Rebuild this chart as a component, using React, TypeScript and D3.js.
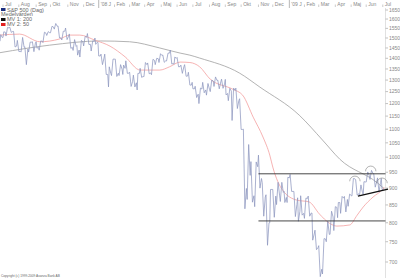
import React from "react";
import * as d3 from "d3";

// ---- Data (S&P 500, weekly high/low/close) ----
const weekEnd = [
  "2007-06-29","2007-07-06","2007-07-13","2007-07-20","2007-07-27","2007-08-03","2007-08-10","2007-08-17","2007-08-24","2007-08-31",
  "2007-09-07","2007-09-14","2007-09-21","2007-09-28","2007-10-05","2007-10-12","2007-10-19","2007-10-26","2007-11-02","2007-11-09",
  "2007-11-16","2007-11-23","2007-11-30","2007-12-07","2007-12-14","2007-12-21","2007-12-28",
  "2008-01-04","2008-01-11","2008-01-18","2008-01-25","2008-02-01","2008-02-08","2008-02-15","2008-02-22","2008-02-29","2008-03-07",
  "2008-03-14","2008-03-21","2008-03-28","2008-04-04","2008-04-11","2008-04-18","2008-04-25","2008-05-02","2008-05-09","2008-05-16",
  "2008-05-23","2008-05-30","2008-06-06","2008-06-13","2008-06-20","2008-06-27","2008-07-04","2008-07-11","2008-07-18","2008-07-25",
  "2008-08-01","2008-08-08","2008-08-15","2008-08-22","2008-08-29","2008-09-05","2008-09-12","2008-09-19","2008-09-26","2008-10-03",
  "2008-10-10","2008-10-17","2008-10-24","2008-10-31","2008-11-07","2008-11-14","2008-11-21","2008-11-28","2008-12-05","2008-12-12",
  "2008-12-19","2008-12-26",
  "2009-01-02","2009-01-09","2009-01-16","2009-01-23","2009-01-30","2009-02-06","2009-02-13","2009-02-20","2009-02-27","2009-03-06",
  "2009-03-13","2009-03-20","2009-03-27","2009-04-03","2009-04-10","2009-04-17","2009-04-24","2009-05-01","2009-05-08","2009-05-15",
  "2009-05-22","2009-05-29","2009-06-05","2009-06-12","2009-06-19","2009-06-26","2009-07-03","2009-07-06",
];
const weekHigh = [
  1517,1532,1555,1556,1534,1488,1503,1456,1479,1481,1481,1485,1530,1533,1561,1576,1563,1535,1552,1521,1492,1462,1488,1508,1523,1485,1500,
  1478,1420,1420,1360,1396,1396,1370,1368,1388,1335,1322,1330,1353,1380,1378,1395,1400,1422,1416,1425,1440,1406,1404,1368,1370,1335,
  1290,1273,1265,1290,1285,1300,1314,1300,1304,1303,1264,1265,1265,1220,1100,1044,985,984,1007,917,880,896,896,918,918,890,
  934,943,890,871,877,870,876,827,780,740,758,804,832,845,857,875,875,882,930,926,910,920,951,956,945,932,930,898,
];
const weekLow = [
  1484,1503,1510,1529,1455,1433,1430,1370,1430,1432,1449,1439,1477,1513,1527,1546,1500,1490,1492,1448,1438,1415,1406,1460,1467,1435,1468,
  1411,1370,1325,1270,1320,1316,1320,1325,1330,1272,1270,1257,1312,1315,1328,1324,1370,1380,1381,1387,1373,1372,1360,1330,1317,1278,
  1262,1225,1200,1245,1235,1250,1272,1262,1264,1236,1212,1133,1180,1099,839,866,858,845,900,818,741,800,815,851,860,857,
  857,890,817,804,821,812,818,754,730,666,672,750,769,779,814,826,830,846,876,879,877,880,919,927,903,888,896,886,
];
const weekClose = [
  1503,1530,1552,1534,1459,1433,1453,1445,1479,1474,1453,1484,1525,1527,1557,1561,1501,1535,1509,1453,1458,1440,1481,1504,1468,1484,1478,
  1411,1401,1325,1330,1396,1331,1349,1353,1331,1294,1288,1330,1316,1370,1332,1390,1398,1413,1388,1425,1375,1400,1361,1360,1318,1278,
  1262,1239,1261,1257,1260,1296,1298,1292,1283,1242,1252,1255,1213,1099,899,940,877,968,930,873,800,896,876,879,887,872,
  932,890,851,832,826,869,827,770,735,683,757,769,816,843,857,870,866,878,929,883,887,919,940,946,921,918,896,898,
];

// Moving averages
const ma200Date = ["2007-06-26","2007-09-28","2008-01-04","2008-03-03","2008-04-29","2008-06-06","2008-06-25","2008-07-15","2008-09-29","2008-11-05","2009-01-22","2009-03-09","2009-04-09","2009-06-22","2009-07-06"];
const ma200Value = [1427,1464,1485,1481,1450,1425,1415,1401,1331,1269,1154,1060,993,916,898];
const ma50Date = ["2007-06-26","2007-08-02","2007-09-11","2007-10-17","2007-11-06","2007-11-26","2007-12-24","2008-01-24","2008-02-22","2008-03-24","2008-04-29","2008-05-16","2008-06-06","2008-06-25","2008-07-15","2008-08-04","2008-09-16","2008-10-03","2008-10-23","2008-11-11","2008-11-24","2008-12-01","2008-12-18","2009-01-16","2009-02-10","2009-03-03","2009-03-20","2009-04-03","2009-04-29","2009-05-13","2009-05-26","2009-06-12","2009-07-01","2009-07-06"];
const ma50Value = [1515,1520,1481,1495,1515,1515,1489,1459,1407,1345,1345,1360,1382,1380,1360,1304,1260,1235,1146,1071,1007,967,894,864,859,824,799,791,794,821,844,873,897,903];

const monthLabels = ["Jul","Aug","Sep","Okt","Nov","Dec","'08 J","Feb","Mar","Apr","Maj","Jun","Jul","Aug","Sep","Okt","Nov","Dec","'09 J","Feb","Mar","Apr","Maj","Jun","Jul"];
const priceTicks = [700,750,800,850,900,950,1000,1050,1100,1150,1200,1250,1300,1350,1400,1450,1500,1550,1600,1650];

const holidays = ["2007-07-04","2007-09-03","2007-11-22","2007-12-25","2008-01-01","2008-01-21","2008-02-18","2008-03-21","2008-05-26","2008-07-04","2008-09-01","2008-11-27","2008-12-25","2009-01-01","2009-01-19","2009-02-16","2009-04-10","2009-05-25","2009-07-03"];

// Annotations
const levelValues = [945, 805];
const levelStart = "2008-11-03";
const trendDates = ["2009-05-14", "2009-07-13"];
const trendValues = [876, 897];
const arcDates = ["2009-05-08", "2009-06-09", "2009-06-30"];
const arcValues = [925, 957, 919];

const legendLabels = ["S&P 500 (Dag)", "Medelvärden", "MV 1: 200", "MV 2: 50"];

export default function App() {
  const W = 400, H = 278;
  const parse = d3.utcParse("%Y-%m-%d");
  const fmt = d3.utcFormat("%Y-%m-%d");
  const hol = new Set(holidays);
  const days = d3.utcDay
    .range(parse("2007-06-26")!, parse("2009-07-20")!)
    .filter((d) => d.getUTCDay() > 0 && d.getUTCDay() < 6 && !hol.has(fmt(d)));
  const t = days.map((d) => +d);
  const idxOf = (s: string) => d3.bisectLeft(t, +parse(s)!);
  const lastIdx = idxOf("2009-07-06");
  const x = d3.scaleLinear().domain([0, lastIdx]).range([0, 384.3]);
  const y = d3.scaleLog().domain([700, 1650]).range([262, 10]);
  const axisX = 385.5;

  // price path
  const pts: [number, number][] = [];
  let prevEnd = -1;
  let prevClose = weekClose[0];
  weekEnd.forEach((we, i) => {
    const endIdx = d3.bisectRight(t, +parse(we)!) - 1;
    const D = d3.range(prevEnd + 1, endIdx + 1);
    const n = D.length;
    const up = weekClose[i] >= prevClose;
    const e1 = up ? weekLow[i] : weekHigh[i];
    const e2 = up ? weekHigh[i] : weekLow[i];
    if (n >= 3) pts.push([D[0], e1], [D[Math.max(1, n - 3)], e2], [D[n - 1], weekClose[i]]);
    else if (n === 2) pts.push([D[0], e1], [D[1], weekClose[i]]);
    else if (n === 1) pts.push([D[0], weekClose[i]]);
    prevEnd = endIdx;
    prevClose = weekClose[i];
  });
  const line = d3.line<[number, number]>().x((d) => x(d[0])).y((d) => y(d[1]));
  const pricePath = line(pts) || "";

  const maLine = d3
    .line<[number, number]>()
    .x((d) => x(d[0]))
    .y((d) => y(d[1]))
    .curve(d3.curveMonotoneX);
  const ma200Path = maLine(ma200Date.map((d, i) => [idxOf(d), ma200Value[i]])) || "";
  const ma50Path = maLine(ma50Date.map((d, i) => [idxOf(d), ma50Value[i]])) || "";

  // months
  const months = d3.utcMonth.range(parse("2007-07-01")!, parse("2009-07-02")!);
  const monthX = months.map((m) => x(idxOf(fmt(m))));

  const font = "'Liberation Sans', Arial, sans-serif";
  const r = 5.2;

  return (
    <div style={{ position: "fixed", left: 0, top: 0, width: W, height: H, background: "#fff" }}>
      <svg width={W} height={H} style={{ display: "block" }} fontFamily={font}>
        <rect width={W} height={H} fill="#fff" />
        {/* top month axis */}
        {monthX.map((mx, i) => {
          const isYear = months[i].getUTCMonth() === 0;
          return (
            <g key={"m" + i}>
              <line x1={mx} x2={mx} y1={isYear ? 0 : 4.5} y2={isYear ? 8 : 7} stroke={isYear ? "#888" : "#aaa"} strokeWidth={0.6} />
              <text x={mx + 2} y={5.6} fontSize={5} fill="#888">{monthLabels[i]}</text>
            </g>
          );
        })}
        {/* right axis */}
        <line x1={axisX} x2={axisX} y1={8} y2={H} stroke="#ccc" strokeWidth={0.6} />
        {priceTicks.map((v) => (
          <g key={"p" + v}>
            <line x1={axisX} x2={axisX + 2.5} y1={y(v)} y2={y(v)} stroke="#999" strokeWidth={0.6} />
            <text x={389} y={y(v) + 1.8} fontSize={5} fill="#888">{v}</text>
          </g>
        ))}
        {/* moving averages */}
        <path d={ma200Path} fill="none" stroke="#a0a0a0" strokeWidth={0.8} />
        <path d={ma50Path} fill="none" stroke="#f4a0a0" strokeWidth={0.8} />
        {/* price */}
        <path d={pricePath} fill="none" stroke="#8e97bf" strokeWidth={0.75} strokeLinejoin="miter" />
        {/* horizontal levels */}
        {levelValues.map((v) => (
          <line key={"l" + v} x1={x(idxOf(levelStart))} x2={axisX} y1={y(v)} y2={y(v)} stroke="#333" strokeWidth={0.9} />
        ))}
        {/* trend line */}
        <line
          x1={x(idxOf(trendDates[0]))}
          y1={y(trendValues[0])}
          x2={x(idxOf(trendDates[1]))}
          y2={y(trendValues[1])}
          stroke="#111"
          strokeWidth={1.3}
        />
        {/* arcs */}
        {arcDates.map((d, i) => {
          const cx = x(idxOf(d));
          const cy = y(arcValues[i]);
          return (
            <path
              key={"a" + i}
              d={`M ${cx - r} ${cy + 1.2} A ${r} ${r} 0 1 1 ${cx + r} ${cy + 1.2}`}
              fill="none"
              stroke="#666"
              strokeWidth={0.5}
            />
          );
        })}
        {/* legend */}
        <rect x={1} y={8} width={4.5} height={3} fill="#1c2f7f" />
        <text x={7} y={11.6} fontSize={5.5} fill="#666">{legendLabels[0]}</text>
        <text x={1} y={16.4} fontSize={5.5} fill="#666">{legendLabels[1]}</text>
        <rect x={1} y={18} width={4.5} height={3} fill="#111" />
        <text x={7} y={21.4} fontSize={5.5} fill="#666">{legendLabels[2]}</text>
        <rect x={1} y={23} width={4.5} height={3} fill="#e32222" />
        <text x={7} y={26.4} fontSize={5.5} fill="#666">{legendLabels[3]}</text>
        {/* copyright */}
        <text x={1} y={276.5} fontSize={3.2} fill="#666">Copyright (c) 1999-2009 Avanza Bank AB</text>
      </svg>
    </div>
  );
}
